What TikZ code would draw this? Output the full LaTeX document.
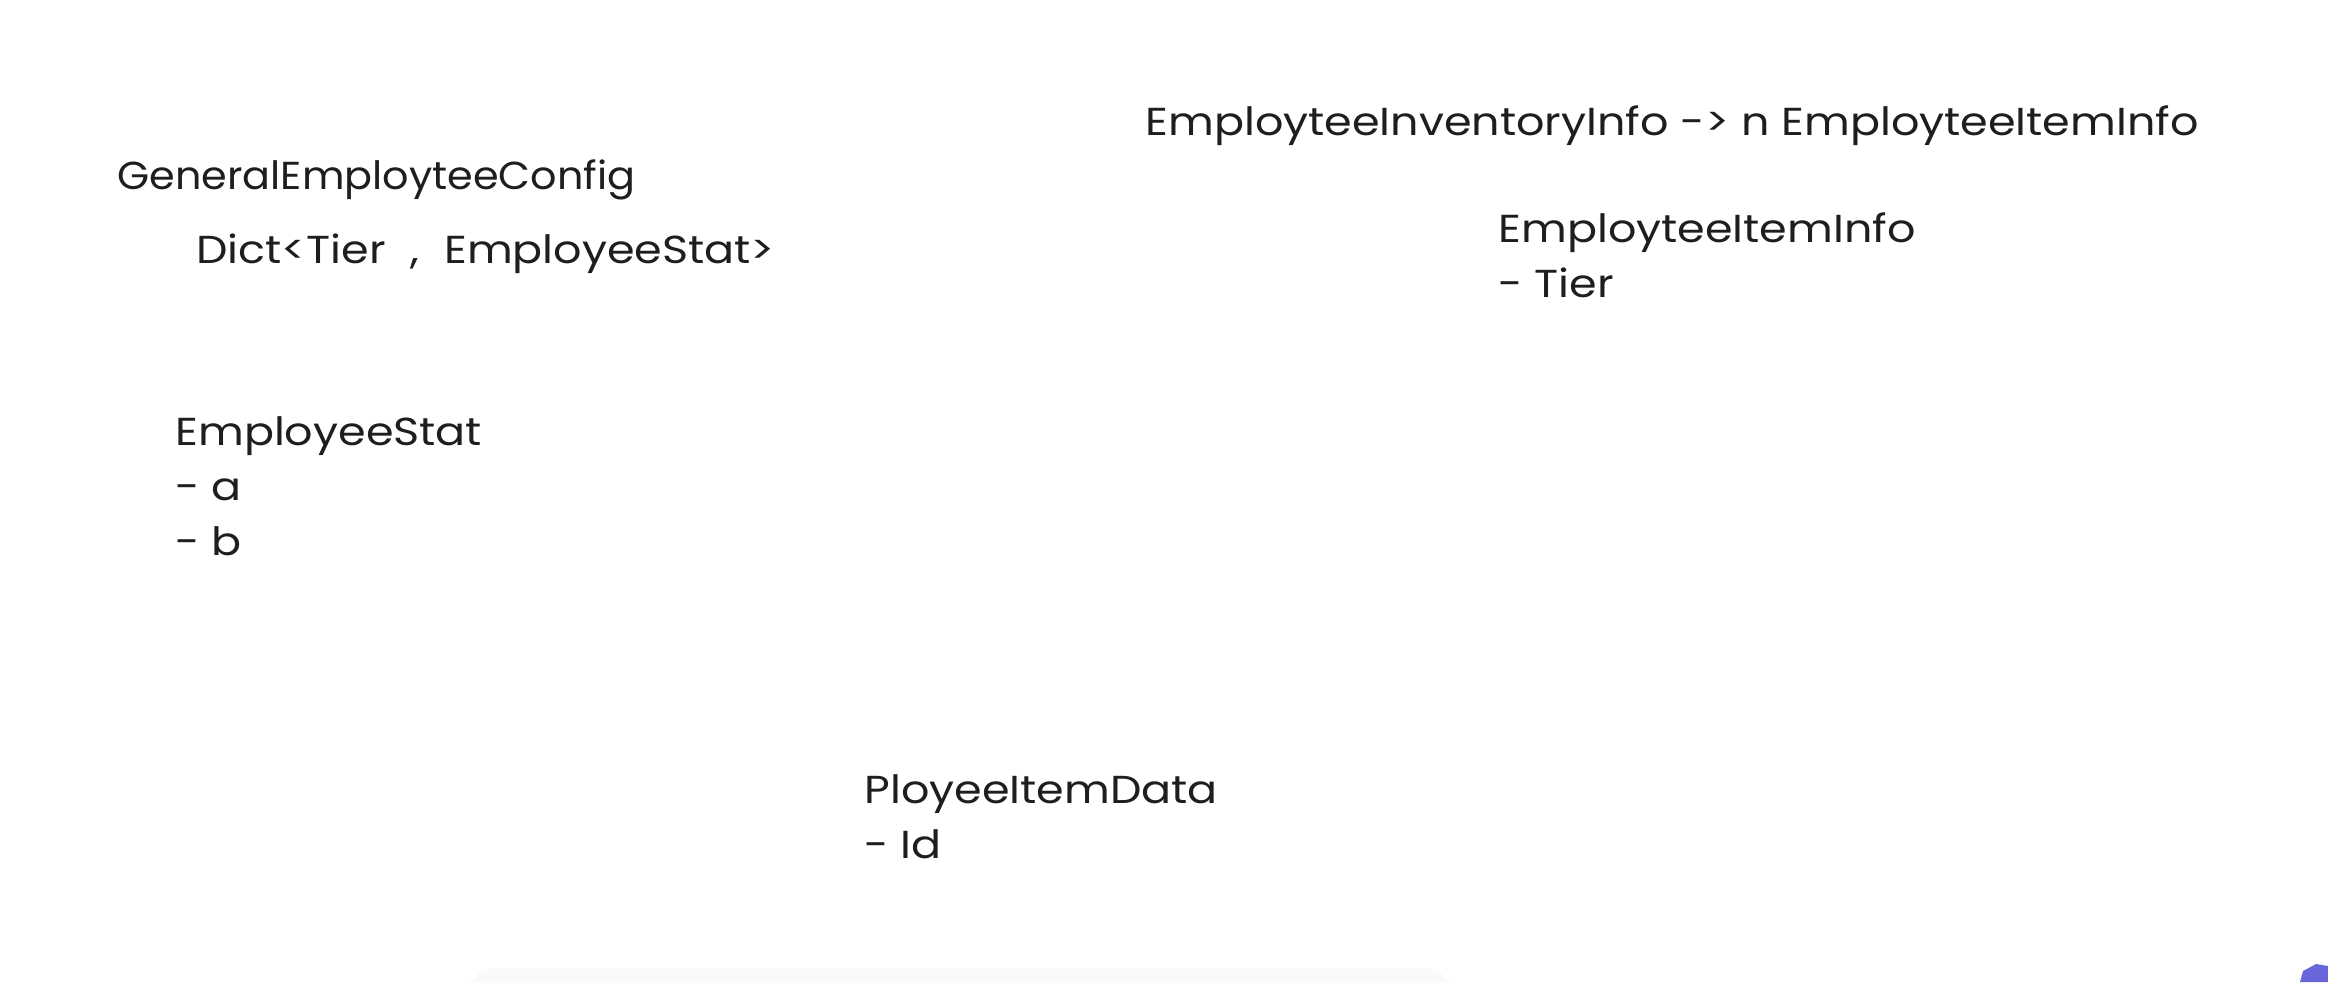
\documentclass[tikz,border=0pt]{standalone}
\usepackage{graphicx}
\usepackage{fontspec}
\setmainfont[FakeStretch=1.14]{Poppins}
\definecolor{ink}{HTML}{1E1E1E}
\definecolor{brand}{HTML}{6965DB}
\definecolor{softgray}{HTML}{FAFAFA}
\tikzset{
  lbl/.style={anchor=base west, inner sep=0pt, text=ink, align=left,
    font=\fontsize{19.5}{27.5}\selectfont},
}
\begin{document}
\begin{tikzpicture}[x=0.5pt,y=-0.5pt]
\useasboundingbox (0,0) rectangle (2328,982);
\fill[white] (0,0) rectangle (2328,982);
% faint shadow at bottom
\fill[softgray, rounded corners=12pt] (470,968) rectangle (1450,1000);
% purple badge corner
\fill[brand] (2300,982) -- (2303,971) -- (2316,964) -- (2328,966) -- (2328,982) -- cycle;
\node[lbl] (gec) at (117,189) {\scalebox{0.93}[1]{GeneralEmployteeConfig}};
\node[lbl] (dict) at (196,263) {Dict<Tier\,\, ,\,\, EmployeeStat>};
\node[lbl] (inv) at (1145,135) {EmployteeInventoryInfo -> n EmployteeItemInfo};
\node[lbl] (item) at (1498,297) {EmployteeItemInfo\\- Tier};
\node[lbl] (stat) at (175,555) {EmployeeStat\\- a\\- b};
\node[lbl] (data) at (864,858) {PloyeeItemData\\- Id};
\end{tikzpicture}
\end{document}
